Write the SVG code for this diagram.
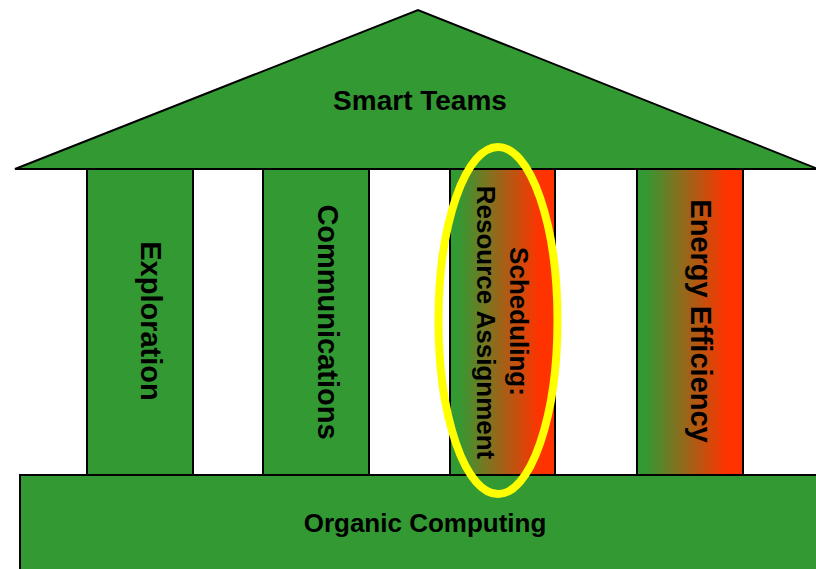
<svg xmlns="http://www.w3.org/2000/svg" width="816" height="569" viewBox="0 0 816 569">
<style>
.g{fill:#339933;stroke:#000;stroke-width:2}
.grad{fill:url(#gr);stroke:#000;stroke-width:2}
.t{font-family:"Liberation Sans",Arial,sans-serif;font-weight:bold;fill:#000;text-anchor:middle}
</style>
<defs>
<linearGradient id="gr" x1="0" y1="0" x2="1" y2="0">
<stop offset="0.08" stop-color="#339933"/>
<stop offset="0.85" stop-color="#ff3300"/>
</linearGradient>
</defs>
<rect width="816" height="569" fill="#fff"/>
<g id="connectors"/>
<g id="exploration">
<rect class="g" x="87" y="169" width="106" height="306"/>
<text class="t" font-size="29" transform="translate(141,321) rotate(90)">Exploration</text>
</g>
<g id="communications">
<rect class="g" x="263" y="169" width="106" height="306"/>
<text class="t" font-size="29" transform="translate(318,322) rotate(90)">Communications</text>
</g>
<g id="scheduling">
<rect class="grad" x="450" y="169" width="105" height="306"/>
<text class="t" font-size="26" transform="translate(510,321.5) rotate(90)">Scheduling:</text>
<text class="t" font-size="26" transform="translate(477,322.5) rotate(90)">Resource Assignment</text>
</g>
<g id="energy">
<rect class="grad" x="637" y="169" width="106" height="306"/>
<text class="t" font-size="29" transform="translate(691,321) rotate(90)">Energy Efficiency</text>
</g>
<g id="smart-teams">
<polygon class="g" points="15,169 418,10 818,169"/>
<text class="t" font-size="28" x="420" y="110">Smart Teams</text>
</g>
<g id="organic-computing">
<rect class="g" x="20" y="475" width="800" height="100"/>
<text class="t" font-size="26" x="425" y="532">Organic Computing</text>
</g>
<g id="highlight">
<ellipse cx="498" cy="320.5" rx="59.5" ry="173.5" fill="none" stroke="#ffff00" stroke-width="8"/>
</g>
</svg>
